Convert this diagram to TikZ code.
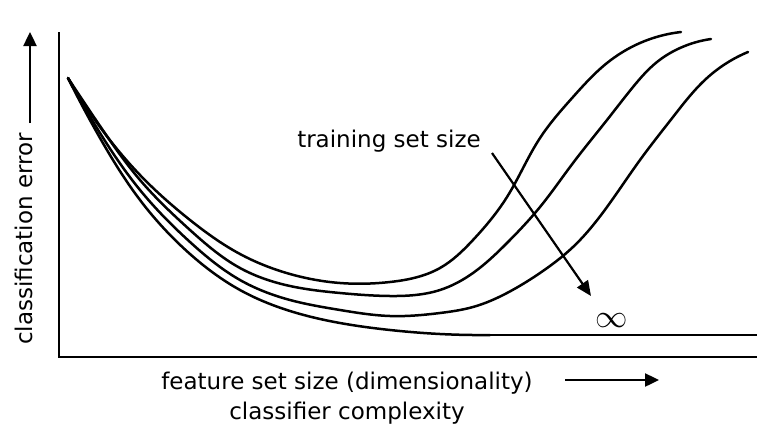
\documentclass[tikz,border=0pt]{standalone}
\usepackage{fontspec}
\usepackage{graphicx}
\setmainfont{DejaVu Sans}
\usetikzlibrary{arrows.meta,hobby}
\begin{document}
\begin{tikzpicture}[x=1pt,y=-1pt,
  axis/.style={line width=2.6pt},
  curve/.style={line width=2.5pt,line join=round,line cap=round},
  bigarrow/.style={line width=2.4pt,-{Triangle[length=14pt,width=13pt]}},
  lbl/.style={font=\fontsize{23}{27}\selectfont,inner sep=0pt}]
\useasboundingbox (0,0) rectangle (757,447);
% axes
\coordinate (ytop) at (59,33);
\coordinate (orig) at (59,357);
\coordinate (xend) at (757,357);
\draw[axis,line cap=rect] (ytop) -- (orig) -- (xend);
% axis arrows
\coordinate (ya0) at (30,123);
\coordinate (ya1) at (30,32);
\draw[bigarrow] (ya0) -- (ya1);
\coordinate (xa0) at (565,380);
\coordinate (xa1) at (659,380);
\draw[bigarrow] (xa0) -- (xa1);
% labels
\node[lbl,rotate=90] (ylab) at (24,239) {classification error};
\node[lbl] (xlab1) at (347,383) {feature set size (dimensionality)};
\node[lbl] (xlab2) at (347,413) {classifier complexity};
\node[lbl] (tss) at (389,141) {training set size};
\node[inner sep=0pt] (inf) at (612,321) {\scalebox{1.3}{\fontsize{24}{24}\selectfont$\infty$}};
% curves
\draw[curve,use Hobby shortcut] (68,78) .. (100,127) .. (140,175) .. (190,220) .. (240,254) .. (290,274) .. (340,283) .. (390,282) .. (440,268) .. (473,240) .. (507,197) .. (540,138) .. (573,97) .. (607,63) .. (640,43) .. (681,32);
\draw[curve,use Hobby shortcut] (68,78) .. (100,126) .. (140,180) .. (190,230) .. (240,268) .. (290,286) .. (340,293) .. (390,296) .. (440,290) .. (473,273) .. (507,243) .. (540,207) .. (573,163) .. (607,120) .. (633,87) .. (657,62) .. (680,48) .. (711,39);
\draw[curve,use Hobby shortcut] (68,78) .. (100,133) .. (140,190) .. (190,242) .. (240,280) .. (290,300) .. (340,310) .. (390,316) .. (440,313) .. (473,307) .. (507,293) .. (540,273) .. (573,247) .. (607,207) .. (640,160) .. (673,117) .. (707,78) .. (748,52);
\draw[curve,use Hobby shortcut] (68,78) .. (100,138) .. (140,200) .. (190,254) .. (240,290) .. (290,311) .. (340,323) .. (390,330) .. (440,334) .. (490,335);
\draw[curve] (490,335) -- (757,335);
% training set size arrow
\coordinate (ta0) at (492,153);
\coordinate (ta1) at (591,296);
\draw[line width=2.2pt,-{Triangle[length=15pt,width=13pt]}] (ta0) -- (ta1);
\end{tikzpicture}
\end{document}
